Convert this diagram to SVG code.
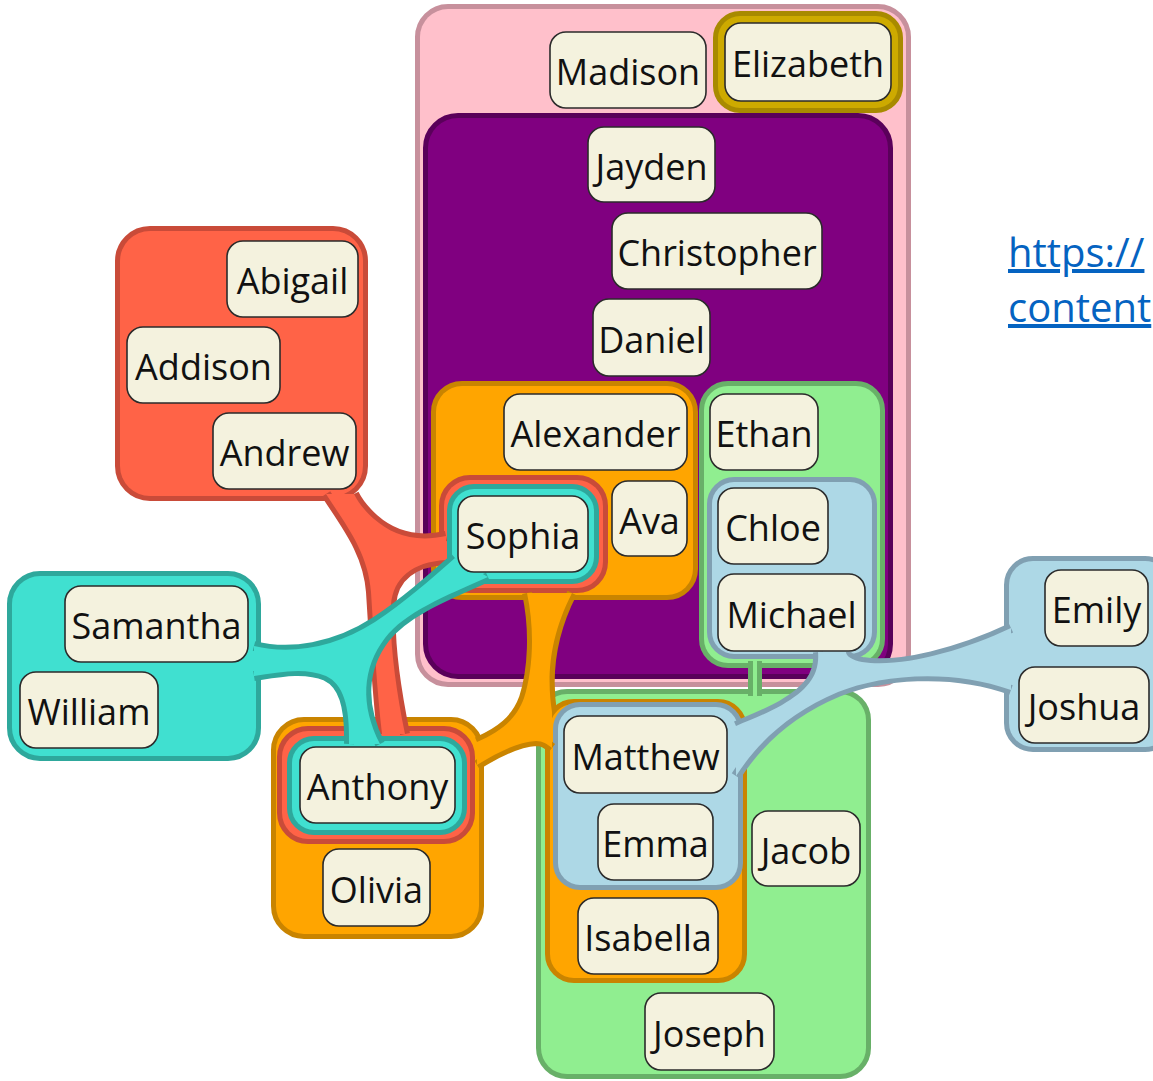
<svg xmlns="http://www.w3.org/2000/svg" width="1153" height="1081" viewBox="0 0 1153 1081">
<style>
.reg{stroke-width:10;paint-order:stroke}
.pink{fill:#ffc0cb;stroke:#c7909c}
.gold{fill:#cdaa00;stroke:#a88a00}
.purple{fill:#800080;stroke:#5a005a}
.green{fill:#90ee90;stroke:#68b068}
.orange{fill:#ffa500;stroke:#c98400}
.lblue{fill:#add8e6;stroke:#80a0b2}
.red{fill:#ff6347;stroke:#c94b39}
.teal{fill:#40e0d0;stroke:#2ea89c}
.edge{fill:none;stroke-width:10}
.e-green{stroke:#68b068}.e-orange{stroke:#c98400}.e-lblue{stroke:#80a0b2}.e-red{stroke:#c94b39}.e-teal{stroke:#2ea89c}
.f-green{fill:#90ee90}.f-orange{fill:#ffa500}.f-lblue{fill:#add8e6}.f-red{fill:#ff6347}.f-teal{fill:#40e0d0}
.node rect{fill:#f4f2de;stroke:#2b2b2b;stroke-width:1.6}
.node text{font-family:"Open Sans","Noto Sans",sans-serif;font-size:36px;fill:#111;text-anchor:middle}
.url{font-family:"Open Sans","Noto Sans",sans-serif;font-size:40px;fill:#0563c1;text-decoration:underline}
</style>
<rect width="1153" height="1081" fill="#ffffff"/>
<g id="regions">
  <rect id="set-pink" class="reg pink" x="420" y="9" width="486" height="673" rx="28"/>
  <rect id="set-gold" class="reg gold" x="718" y="16" width="180" height="92" rx="22"/>
  <rect id="set-purple" class="reg purple" x="428" y="118" width="460" height="556" rx="30"/>
  <g id="set-green">
    <rect class="reg green" x="704" y="386" width="176" height="277" rx="24"/>
    <rect class="reg green" x="541" y="694" width="325" height="380" rx="26"/>
  </g>
  <g id="set-orange">
    <rect class="reg orange" x="436" y="386" width="257" height="209" rx="26"/>
    <rect class="reg orange" x="276" y="722" width="203" height="212" rx="28"/>
    <rect class="reg orange" x="550" y="704" width="192" height="274" rx="24"/>
  </g>
  <g id="set-lblue">
    <rect class="reg lblue" x="712" y="482" width="160" height="172" rx="22"/>
    <rect class="reg lblue" x="558" y="707" width="180" height="178" rx="22"/>
    <rect class="reg lblue" x="1009" y="561" width="160" height="186" rx="24"/>
  </g>
  <g id="set-red">
    <rect class="reg red" x="120" y="231" width="243" height="265" rx="30"/>
    <rect class="reg red" x="444" y="480" width="159" height="108" rx="26"/>
    <rect class="reg red" x="282" y="731" width="188" height="108" rx="26"/>
  </g>
  <g id="set-teal">
    <rect class="reg teal" x="12" y="576" width="244" height="180" rx="28"/>
    <rect class="reg teal" x="452" y="489" width="142" height="90" rx="22"/>
    <rect class="reg teal" x="292" y="741" width="170" height="89" rx="22"/>
  </g>
</g>
<g id="connectors">
  <g id="link-green">
    <path class="edge e-green" d="M753,661 V696 M757,661 V696"/>
    <path class="f-green" d="M753,661 H757 V696 H753 Z"/>
  </g>
  <g id="link-orange">
    <path class="edge e-orange" d="M527,593 C535,630 533,670 524,698 C516,720 500,732 477,742 M477,765 C498,752 518,742 536,741 C543,741 547,744 552,748 M552,712 C547,680 548,640 572,593"/>
    <path class="f-orange" d="M527,593 C535,630 533,670 524,698 C516,720 500,732 477,742 L477,765 C498,752 518,742 536,741 C543,741 547,744 552,748 L552,712 C547,680 548,640 572,593 Z"/>
  </g>
  <g id="link-lblue">
    <path class="edge e-lblue" d="M818,652 C820,675 808,690 782,705 C766,714 750,720 736,726 M736,776 C758,742 790,712 838,692 C880,675 950,668 1011,690 M1011,628 C960,652 900,668 862,662 C852,660 846,656 846,652"/>
    <path class="f-lblue" d="M818,652 C820,675 808,690 782,705 C766,714 750,720 736,726 L736,776 C758,742 790,712 838,692 C880,675 950,668 1011,690 L1011,628 C960,652 900,668 862,662 C852,660 846,656 846,652 Z"/>
  </g>
  <g id="link-red">
    <path class="edge e-red" d="M326,494 C346,525 368,552 371,592 C374,640 377,690 382,734 M405,734 C396,690 389,640 391,605 C393,578 412,562 446,560 M446,536 C414,543 391,534 374,519 C364,510 358,502 354,494"/>
    <path class="f-red" d="M326,494 C346,525 368,552 371,592 C374,640 377,690 382,734 L405,734 C396,690 389,640 391,605 C393,578 412,562 446,560 L446,536 C414,543 391,534 374,519 C364,510 358,502 354,494 Z"/>
  </g>
  <g id="link-teal">
    <path class="edge e-teal" d="M254,646 C290,655 335,648 375,622 C405,602 430,580 455,558 M488,577 C445,596 405,612 385,638 C362,668 360,705 380,744 M349,744 C350,705 343,684 326,676 C305,667 280,672 254,676"/>
    <path class="f-teal" d="M254,646 C290,655 335,648 375,622 C405,602 430,580 455,558 L488,577 C445,596 405,612 385,638 C362,668 360,705 380,744 L349,744 C350,705 343,684 326,676 C305,667 280,672 254,676 Z"/>
  </g>
</g>
<g id="nodes">
  <g id="node-Madison" class="node"><rect x="550" y="32" width="156" height="76" rx="16"/><text x="628" y="85">Madison</text></g>
  <g id="node-Elizabeth" class="node"><rect x="725" y="23" width="166" height="78" rx="16"/><text x="808" y="77">Elizabeth</text></g>
  <g id="node-Jayden" class="node"><rect x="588" y="127" width="127" height="75" rx="16"/><text x="651.5" y="179.5">Jayden</text></g>
  <g id="node-Christopher" class="node"><rect x="612" y="213" width="210" height="76" rx="16"/><text x="717" y="266">Christopher</text></g>
  <g id="node-Daniel" class="node"><rect x="593" y="299" width="117" height="77" rx="16"/><text x="651.5" y="352.5">Daniel</text></g>
  <g id="node-Abigail" class="node"><rect x="227" y="241" width="131" height="76" rx="16"/><text x="292.5" y="294">Abigail</text></g>
  <g id="node-Addison" class="node"><rect x="127" y="327" width="153" height="76" rx="16"/><text x="203.5" y="380">Addison</text></g>
  <g id="node-Andrew" class="node"><rect x="213" y="413" width="143" height="76" rx="16"/><text x="284.5" y="466">Andrew</text></g>
  <g id="node-Alexander" class="node"><rect x="504" y="394" width="183" height="76" rx="16"/><text x="595.5" y="447">Alexander</text></g>
  <g id="node-Ava" class="node"><rect x="612" y="481" width="75" height="75" rx="16"/><text x="649.5" y="533.5">Ava</text></g>
  <g id="node-Sophia" class="node"><rect x="458" y="496" width="130" height="76" rx="16"/><text x="523" y="549">Sophia</text></g>
  <g id="node-Ethan" class="node"><rect x="710" y="394" width="108" height="76" rx="16"/><text x="764" y="447">Ethan</text></g>
  <g id="node-Chloe" class="node"><rect x="718" y="488" width="110" height="76" rx="16"/><text x="773" y="541">Chloe</text></g>
  <g id="node-Michael" class="node"><rect x="718" y="574" width="147" height="77" rx="16"/><text x="791.5" y="627.5">Michael</text></g>
  <g id="node-Samantha" class="node"><rect x="65" y="586" width="183" height="76" rx="16"/><text x="156.5" y="639">Samantha</text></g>
  <g id="node-William" class="node"><rect x="20" y="672" width="138" height="76" rx="16"/><text x="89" y="725">William</text></g>
  <g id="node-Anthony" class="node"><rect x="300" y="747" width="155" height="76" rx="16"/><text x="377.5" y="800">Anthony</text></g>
  <g id="node-Olivia" class="node"><rect x="323" y="849" width="107" height="77" rx="16"/><text x="376.5" y="902.5">Olivia</text></g>
  <g id="node-Matthew" class="node"><rect x="564" y="716" width="163" height="77" rx="16"/><text x="645.5" y="769.5">Matthew</text></g>
  <g id="node-Emma" class="node"><rect x="598" y="804" width="115" height="76" rx="16"/><text x="655.5" y="857">Emma</text></g>
  <g id="node-Isabella" class="node"><rect x="578" y="898" width="140" height="76" rx="16"/><text x="648" y="951">Isabella</text></g>
  <g id="node-Jacob" class="node"><rect x="752" y="811" width="108" height="75" rx="16"/><text x="806" y="863.5">Jacob</text></g>
  <g id="node-Joseph" class="node"><rect x="645" y="993" width="129" height="77" rx="16"/><text x="709.5" y="1046.5">Joseph</text></g>
  <g id="node-Emily" class="node"><rect x="1045" y="570" width="103" height="76" rx="16"/><text x="1096.5" y="623">Emily</text></g>
  <g id="node-Joshua" class="node"><rect x="1019" y="667" width="130" height="76" rx="16"/><text x="1084" y="720">Joshua</text></g>
</g>
<g id="link-text">
  <text class="url" x="1008" y="267">https://</text>
  <text class="url" x="1008" y="322">content</text>
</g>
</svg>
